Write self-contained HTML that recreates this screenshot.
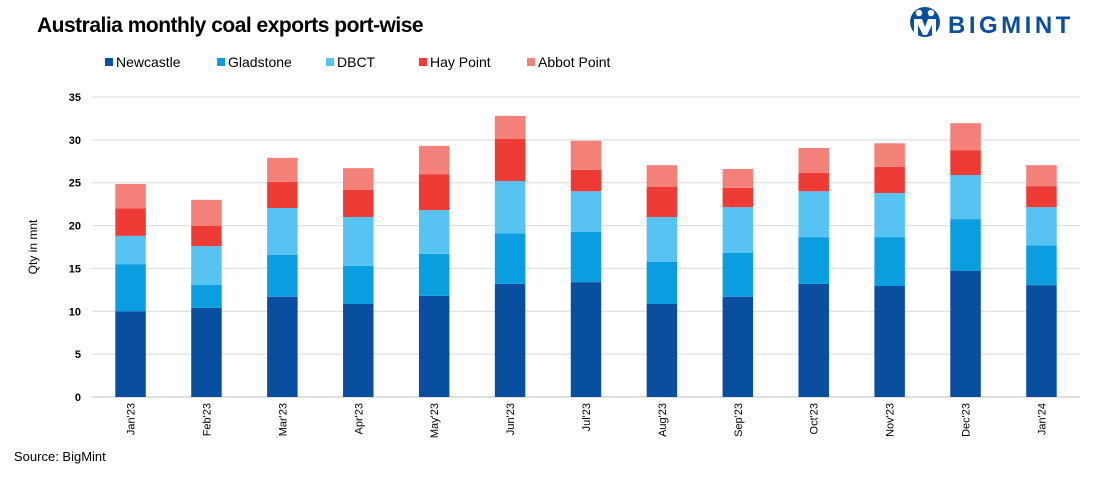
<!DOCTYPE html>
<html><head><meta charset="utf-8"><style>
body{margin:0;background:#fff;font-family:"Liberation Sans",sans-serif}
#wrap{position:relative;width:1118px;height:480px;overflow:hidden}
</style></head><body>
<div id="wrap">
<svg id="svg" width="1118" height="480" xmlns="http://www.w3.org/2000/svg">
<text x="37" y="32" font-size="21" font-weight="bold" fill="#000" letter-spacing="-0.5">Australia monthly coal exports port-wise</text>
<g>
<circle cx="925" cy="22" r="15" fill="#0a4ea0"/>
<circle cx="919" cy="13" r="3.2" fill="#fff"/><circle cx="931" cy="13" r="3.2" fill="#fff"/>
<path d="M914 19 h8 l3 8 l3 -8 h8 v18 h-4 v-12 l-5 10 h-4 l-5 -10 v12 h-4z" fill="#fff"/>
<text x="948" y="33" font-size="24" font-weight="bold" fill="#0a4ea0" letter-spacing="3.5">BIGMINT</text>
</g>
<text x="14" y="461" font-size="13" fill="#000">Source: BigMint</text>
<text transform="translate(37,247) rotate(-90)" text-anchor="middle" font-size="12" fill="#000">Qty in mnt</text>
</svg>
</div>
<script>
const categories=["Jan'23","Feb'23","Mar'23","Apr'23","May'23","Jun'23","Jul'23","Aug'23","Sep'23","Oct'23","Nov'23","Dec'23","Jan'24"];
const seriesNames=["Newcastle","Gladstone","DBCT","Hay Point","Abbot Point"];
const newcastle=[10.0,10.4,11.7,10.85,11.8,13.2,13.4,10.85,11.7,13.2,12.95,14.7,13.05];
const gladstone=[5.5,2.7,4.9,4.45,4.9,5.9,5.85,4.9,5.1,5.45,5.7,6.05,4.65];
const dbct=[3.3,4.5,5.45,5.7,5.1,6.1,4.75,5.25,5.35,5.35,5.15,5.15,4.45];
const hayPoint=[3.2,2.35,3.05,3.15,4.2,4.9,2.5,3.5,2.25,2.15,3.05,2.9,2.45];
const abbotPoint=[2.85,3.05,2.8,2.55,3.3,2.7,3.4,2.55,2.2,2.9,2.75,3.15,2.45];
const yTicks=[0,5,10,15,20,25,30,35];
const colors=["#0a4ea0","#0a9de0","#57c3f2","#ef3b36","#f4807a"];
const svg=document.getElementById('svg');const NS="http://www.w3.org/2000/svg";
const gx0=92,gx1=1080,x0=92.6,x1=1079.4,yBase=397,yTop=97,yMax=35;
const y=v=>yBase-(v/yMax)*(yBase-yTop);
const step=(x1-x0)/categories.length;
const xc=i=>x0+step*(i+0.5);
const bw=30.5;
function mk(t,a){const e=document.createElementNS(NS,t);for(const k in a)e.setAttribute(k,a[k]);svg.appendChild(e);return e;}
yTicks.forEach(t=>{
 const l=mk('line',{x1:gx0,x2:gx1,y1:y(t),y2:y(t),stroke:t===0?'#bfbfbf':'#d9d9d9','stroke-width':1});
 
 
 const tx=mk('text',{x:81,y:y(t)+4,'text-anchor':'end','font-size':11,'font-weight':'bold',fill:'#000'});tx.textContent=t;
 
 
});
const data=[newcastle,gladstone,dbct,hayPoint,abbotPoint];
categories.forEach((c,i)=>{
 let cum=0;
 data.forEach((s,k)=>{
  const r=mk('rect',{x:xc(i)-bw/2,y:y(cum+s[i]),width:bw,height:y(cum)-y(cum+s[i]),fill:colors[k]});
  
  
  cum+=s[i];
 });
 const t=mk('text',{transform:`translate(${xc(i)+4},403) rotate(-90)`,'text-anchor':'end','font-size':11,fill:'#000'});t.textContent=c;
 
 
});
const lx=[105,217,326,419,527];
seriesNames.forEach((n,k)=>{
 const r=mk('rect',{x:lx[k],y:58,width:8,height:8,fill:colors[k]});
 
 
 const t=mk('text',{x:lx[k]+11,y:67,'font-size':14,fill:'#000'});t.textContent=n;
 
 
});
</script>
</body></html>
